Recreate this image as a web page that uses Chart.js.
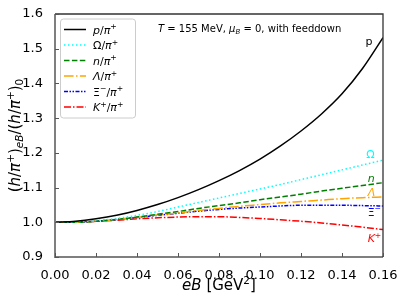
<!DOCTYPE html>
<html>
<head>
<meta charset="utf-8">
<script src="https://cdn.jsdelivr.net/npm/chart.js@4/dist/chart.umd.min.js"></script>
<style>
  html, body { margin: 0; padding: 0; background: #fff; }
  #wrap { width: 407px; height: 305px; }
</style>
</head>
<body>
<div id="wrap"><canvas id="myChart" width="407" height="305"></canvas></div>
<script>
// eB values [GeV^2]
const eB = [0, 0.01, 0.02, 0.03, 0.04, 0.05, 0.06, 0.07, 0.08, 0.09, 0.10, 0.11, 0.12, 0.13, 0.14, 0.15, 0.16];

// ratios
const pRatio     = [1.000, 1.003, 1.010, 1.020, 1.034, 1.051, 1.071, 1.094, 1.120, 1.149, 1.182, 1.220, 1.263, 1.312, 1.370, 1.443, 1.532];
const omegaRatio = [1.000, 1.001, 1.005, 1.011, 1.020, 1.031, 1.044, 1.057, 1.070, 1.083, 1.096, 1.109, 1.123, 1.137, 1.151, 1.165, 1.179];
const nRatio     = [1.000, 1.000, 1.003, 1.008, 1.015, 1.023, 1.031, 1.040, 1.048, 1.056, 1.065, 1.073, 1.081, 1.090, 1.098, 1.106, 1.114];
const lambdaRatio= [1.000, 1.000, 1.003, 1.008, 1.014, 1.021, 1.027, 1.034, 1.040, 1.046, 1.051, 1.056, 1.060, 1.064, 1.068, 1.071, 1.073];
const xiRatio    = [1.000, 1.000, 1.003, 1.008, 1.014, 1.020, 1.026, 1.032, 1.037, 1.041, 1.044, 1.047, 1.049, 1.049, 1.049, 1.048, 1.047];
const kRatio     = [1.000, 1.001, 1.003, 1.006, 1.010, 1.013, 1.015, 1.016, 1.016, 1.014, 1.011, 1.007, 1.003, 0.998, 0.992, 0.986, 0.979];

const xTicks = [0, 0.02, 0.04, 0.06, 0.08, 0.10, 0.12, 0.14, 0.16];
const yTicks = [0.9, 1.0, 1.1, 1.2, 1.3, 1.4, 1.5, 1.6];

const FONT = '"DejaVu Sans", sans-serif';

// series styles + labels (runs: t = text, i = italic, sup/sub)
const series = [
  { data: pRatio, color: '#000000', dash: [],
    legend: [{t: 'p', i: 1}, {t: '/'}, {t: 'π', i: 1}, {t: '+', sup: 1}],
    tag: [{t: 'p'}], tagPos: [0.1515, 1.525] },
  { data: omegaRatio, color: '#00ffff', dash: [1.5, 2.5],
    legend: [{t: 'Ω'}, {t: '/'}, {t: 'π', i: 1}, {t: '+', sup: 1}],
    tag: [{t: 'Ω'}], tagPos: [0.1518, 1.199] },
  { data: nRatio, color: '#008000', dash: [5.5, 2.4],
    legend: [{t: 'n', i: 1}, {t: '/'}, {t: 'π', i: 1}, {t: '+', sup: 1}],
    tag: [{t: 'n', i: 1}], tagPos: [0.1525, 1.13] },
  { data: lambdaRatio, color: '#ffa500', dash: [9.6, 2.4, 1.5, 2.4],
    legend: [{t: 'Λ', i: 1}, {t: '/'}, {t: 'π', i: 1}, {t: '+', sup: 1}],
    tag: [{t: 'Λ', i: 1}], tagPos: [0.1525, 1.09] },
  { data: xiRatio, color: '#0000ff', dash: [4, 1.5, 1.5, 1.5, 1.5, 1.5],
    legend: [{t: 'Ξ'}, {t: '−', sup: 1}, {t: '/'}, {t: 'π', i: 1}, {t: '+', sup: 1}],
    tag: [{t: 'Ξ'}, {t: '−', sup: 1}], tagPos: [0.1525, 1.032] },
  { data: kRatio, color: '#ff0000', dash: [7, 2, 1.5, 2],
    legend: [{t: 'K', i: 1}, {t: '+', sup: 1}, {t: '/'}, {t: 'π', i: 1}, {t: '+', sup: 1}],
    tag: [{t: 'K', i: 1}, {t: '+', sup: 1}], tagPos: [0.1525, 0.957] }
];

// draws a list of text runs (mathtext-ish), returns width
function drawRuns(ctx, runs, x, y, size, color, measureOnly) {
  let cx = x;
  ctx.textBaseline = 'alphabetic';
  ctx.textAlign = 'left';
  for (const r of runs) {
    let s = size, dy = 0;
    if (r.sup) { s = size * 0.7; dy = -size * 0.38; }
    if (r.sub) { s = size * 0.7; dy = size * 0.22; }
    ctx.font = (r.i ? 'italic ' : '') + s + 'px ' + FONT;
    if (!measureOnly) {
      ctx.fillStyle = color;
      ctx.fillText(r.t, cx, y + dy);
    }
    cx += ctx.measureText(r.t).width;
  }
  return cx - x;
}

const decorations = {
  id: 'decorations',
  afterDraw(chart) {
    const ctx = chart.ctx;
    const a = chart.chartArea;
    const xs = chart.scales.x, ys = chart.scales.y;
    ctx.save();

    // frame
    ctx.strokeStyle = '#7f7f7f';
    ctx.lineWidth = 2;
    ctx.beginPath();
    ctx.moveTo(a.left, a.top); ctx.lineTo(a.left, a.bottom); ctx.lineTo(a.right, a.bottom);
    ctx.stroke();
    ctx.strokeStyle = '#333';
    ctx.lineWidth = 1.3;
    ctx.beginPath();
    ctx.moveTo(a.left, a.top); ctx.lineTo(a.right, a.top); ctx.lineTo(a.right, a.bottom);
    ctx.stroke();

    // inward ticks
    ctx.strokeStyle = '#555';
    ctx.lineWidth = 1;
    ctx.beginPath();
    xTicks.forEach(v => {
      const px = Math.round(xs.getPixelForValue(v)) + 0.5;
      ctx.moveTo(px, a.bottom); ctx.lineTo(px, a.bottom - 4);
    });
    yTicks.forEach(v => {
      const py = Math.round(ys.getPixelForValue(v)) + 0.5;
      ctx.moveTo(a.left, py); ctx.lineTo(a.left + 4, py);
    });
    ctx.stroke();

    // curve tags at right end
    series.forEach(s => {
      drawRuns(ctx, s.tag, xs.getPixelForValue(s.tagPos[0]), ys.getPixelForValue(s.tagPos[1]) + 4.5, 11, s.color);
    });

    // annotation
    drawRuns(ctx, [
      {t: 'T', i: 1}, {t: ' = 155 MeV, '}, {t: 'μ', i: 1}, {t: 'B', i: 1, sub: 1},
      {t: ' = 0, with feeddown'}
    ], a.left + 103, a.top + 18, 10, '#000');

    // legend box
    const lx = a.left + 5, ly = a.top + 4.5, lw = 75, lh = 99;
    ctx.fillStyle = 'rgba(255,255,255,0.8)';
    ctx.strokeStyle = '#cccccc';
    ctx.lineWidth = 1;
    ctx.beginPath();
    ctx.roundRect(lx + 0.5, ly + 0.5, lw, lh, 3);
    ctx.fill();
    ctx.stroke();
    series.forEach((s, i) => {
      const ry = ly + 11 + i * 15.5;
      ctx.strokeStyle = s.color;
      ctx.lineWidth = 1.5;
      ctx.setLineDash(s.dash);
      ctx.beginPath();
      ctx.moveTo(lx + 4, ry); ctx.lineTo(lx + 26, ry);
      ctx.stroke();
      ctx.setLineDash([]);
      drawRuns(ctx, s.legend, lx + 33, ry + 4, 11, '#000');
    });

    // x axis title
    const xt = [{t: 'eB', i: 1}, {t: ' [GeV'}, {t: '2', sup: 1}, {t: ']'}];
    const xw = drawRuns(ctx, xt, 0, 0, 15, '#000', true);
    drawRuns(ctx, xt, (a.left + a.right) / 2 - xw / 2, 290, 15, '#000');

    // y axis title
    const yt = [{t: '('}, {t: 'h', i: 1}, {t: '/'}, {t: 'π', i: 1}, {t: '+', sup: 1}, {t: ')'},
                {t: 'eB', i: 1, sub: 1}, {t: '/('}, {t: 'h', i: 1}, {t: '/'}, {t: 'π', i: 1},
                {t: '+', sup: 1}, {t: ')'}, {t: '0', sub: 1}];
    const yw = drawRuns(ctx, yt, 0, 0, 15, '#000', true);
    ctx.translate(20, (a.top + a.bottom) / 2);
    ctx.rotate(-Math.PI / 2);
    drawRuns(ctx, yt, -yw / 2, 0, 15, '#000');

    ctx.restore();
  }
};

const ctx = document.getElementById('myChart').getContext('2d');
const myChart = new Chart(ctx, {
  type: 'line',
  data: {
    datasets: series.map(s => ({
      data: eB.map((x, i) => ({x: x, y: s.data[i]})),
      borderColor: s.color,
      borderWidth: 1.5,
      borderDash: s.dash,
      pointRadius: 0,
      fill: false,
      cubicInterpolationMode: 'monotone'
    }))
  },
  options: {
    responsive: false,
    animation: false,
    layout: { padding: { top: 14, right: 24, left: 0, bottom: 0 } },
    plugins: { legend: { display: false }, tooltip: { enabled: false } },
    scales: {
      x: {
        type: 'linear',
        min: 0, max: 0.16,
        afterFit: s => { s.height = 48; },
        afterBuildTicks: s => { s.ticks = xTicks.map(v => ({value: v})); },
        grid: { display: false },
        border: { display: false },
        ticks: {
          padding: 3,
          color: '#000',
          font: { family: FONT, size: 13 },
          maxRotation: 0,
          callback: v => v.toFixed(2)
        }
      },
      y: {
        min: 0.9, max: 1.6,
        afterFit: s => { s.width = 55; },
        afterBuildTicks: s => { s.ticks = yTicks.map(v => ({value: v})); },
        grid: { display: false },
        border: { display: false },
        ticks: {
          padding: 4,
          color: '#000',
          font: { family: FONT, size: 13 },
          callback: v => v.toFixed(1)
        }
      }
    }
  },
  plugins: [decorations]
});
</script>
</body>
</html>
